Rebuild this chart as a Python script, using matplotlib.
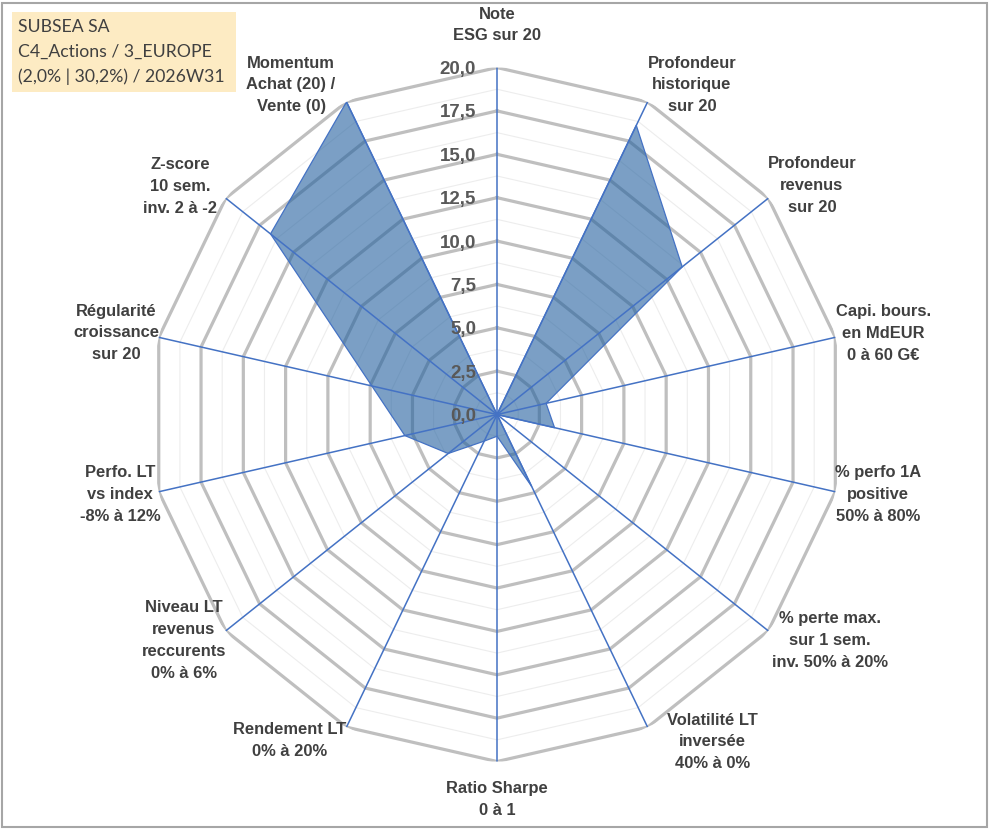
import numpy as np
import matplotlib
matplotlib.use("Agg")
import matplotlib.pyplot as plt
from matplotlib.patches import Rectangle

# Axes of the radar, clockwise from the top
axis_labels = [
    "Note\nESG sur 20",
    "Profondeur\nhistorique\nsur 20",
    "Profondeur\nrevenus\nsur 20",
    "Capi. bours.\nen MdEUR\n0 à 60 G€",
    "% perfo 1A\npositive\n50% à 80%",
    "% perte max.\nsur 1 sem.\ninv. 50% à 20%",
    "Volatilité LT\ninversée\n40% à 0%",
    "Ratio Sharpe\n0 à 1",
    "Rendement LT\n0% à 20%",
    "Niveau LT\nrevenus\nreccurents\n0% à 6%",
    "Perfo. LT\nvs index\n-8% à 12%",
    "Régularité\ncroissance\nsur 20",
    "Z-score\n10 sem.\ninv. 2 à -2",
    "Momentum\nAchat (20) /\nVente (0)",
]
scores = [0, 18.5, 13.65, 2.9, 3.4, 0, 4.6, 1.25, 1.7, 3.6, 5.45, 7.4, 16.7, 20]

major_ticks = [0, 2.5, 5, 7.5, 10, 12.5, 15, 17.5, 20]
minor_ticks = [1.25, 3.75, 6.25, 8.75, 11.25, 13.75, 16.25, 18.75]

title_lines = ["SUBSEA SA", "C4_Actions / 3_EUROPE", "(2,0% | 30,2%) / 2026W31"]

# where each axis label sits (angle in degrees, radius in score units)
label_pos = [(0, 22.45), (30.6, 22.07), (54.0, 22.43), (78.1, 22.74),
             (101.9, 22.44), (124.2, 23.2), (146.6, 22.6), (180, 22.2),
             (212.5, 22.3), (234.2, 22.25), (258, 22.2), (282.1, 22.45),
             (305.8, 22.5), (328, 22.4)]

n = len(axis_labels)
theta = np.linspace(0, 2 * np.pi, n, endpoint=False)
theta_closed = np.append(theta, theta[0])

fig = plt.figure(figsize=(9.91, 8.30), dpi=100)
ax = fig.add_axes([0.1514, 0.0825, 0.7003, 0.8361], projection="polar")
ax.set_theta_zero_location("N")
ax.set_theta_direction(-1)
ax.set_ylim(0, 20)
ax.grid(False)
ax.set_xticks([])
ax.set_yticks([])
ax.spines["polar"].set_visible(False)
ax.patch.set_visible(False)

# polygon gridlines
for v in minor_ticks:
    ax.plot(theta_closed, [v] * (n + 1), color="#EDEDED", lw=0.8, zorder=1)
for v in major_ticks[1:]:
    ax.plot(theta_closed, [v] * (n + 1), color="#BFBFBF", lw=2.3, zorder=2)

# data polygon
vals = np.append(scores, scores[0])
ax.fill(theta_closed, vals, facecolor="#23609F", alpha=0.6,
        edgecolor="none", zorder=3)
ax.plot(theta_closed, vals, color="#4472C4", lw=0.9, zorder=4)

# spokes
for t in theta:
    ax.plot([t, t], [0, 20], color="#4472C4", lw=1.1, zorder=5)

# radial tick labels
for v in major_ticks:
    ax.annotate(f"{v:.1f}".replace(".", ","), xy=(0, v), xytext=(-21, -2),
                textcoords="offset pixels", ha="right", va="center",
                fontsize=13.5, fontweight="bold", color="#595959",
                family="Liberation Sans", zorder=6)

# axis labels
for lab, (ang, r) in zip(axis_labels, label_pos):
    ax.text(np.deg2rad(ang), r, lab, ha="center", va="center",
            multialignment="center", fontsize=11.9, fontweight="bold",
            color="#404040", family="Liberation Sans", linespacing=1.57)

# title box
fig.patches.append(Rectangle((12 / 991, 1 - 92 / 830), 224 / 991, 80 / 830,
                             transform=fig.transFigure, facecolor="#FDEBC3",
                             edgecolor="none", zorder=0))
for i, line in enumerate(title_lines):
    fig.text(18 / 991, 1 - (27 + 25 * i) / 830, line, ha="left", va="center",
             fontsize=12.7, color="#404040", family="Lato")

# chart border
fig.patches.append(Rectangle((2 / 991, 3 / 830), 985 / 991, 824 / 830,
                             transform=fig.transFigure, facecolor="none",
                             edgecolor="#A6A6A6", lw=1.5))

fig.savefig("out.png", dpi=100)
